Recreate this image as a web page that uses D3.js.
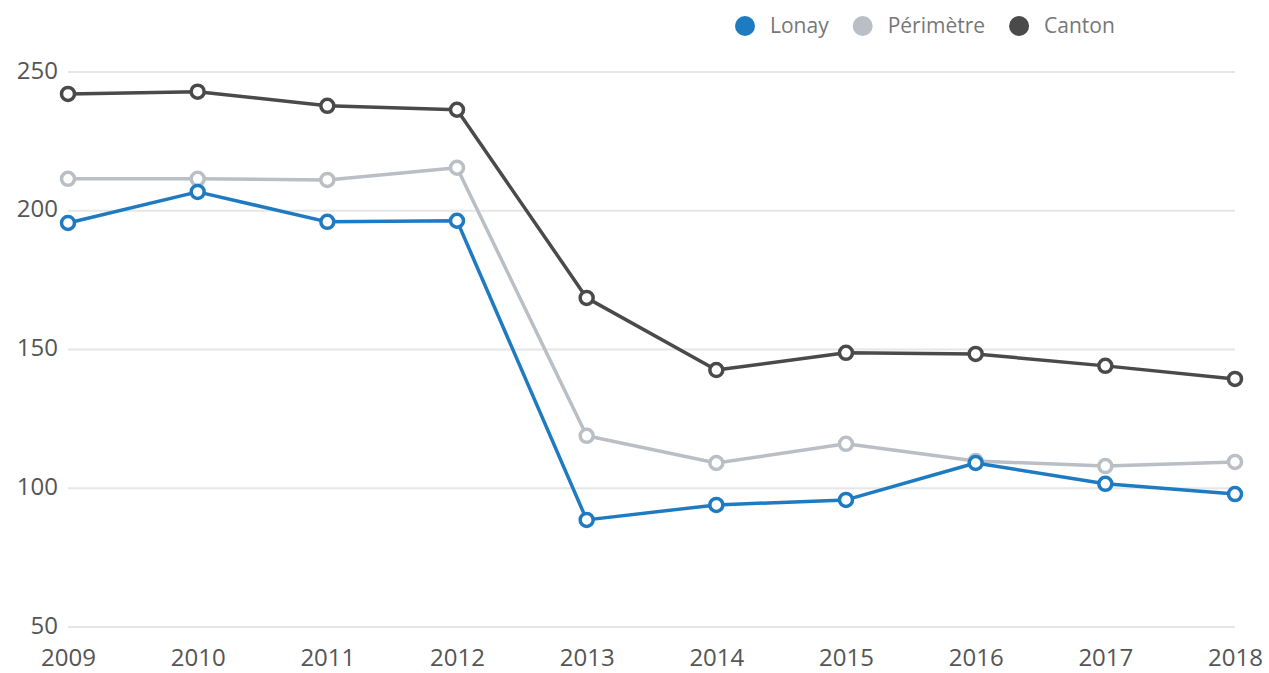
<!DOCTYPE html>
<html>
<head>
<meta charset="utf-8">
<script src="https://cdn.jsdelivr.net/npm/d3@7"></script>
<style>
  body { margin: 0; background: #fff; }
  svg { display: block; font-family: "Open Sans", sans-serif; }
</style>
</head>
<body>
<div id="vis"></div>
<script>
// data
var years = [2009, 2010, 2011, 2012, 2013, 2014, 2015, 2016, 2017, 2018];
var lonay = [195.6, 206.8, 196.0, 196.4, 88.6, 94.0, 95.8, 109.1, 101.6, 97.9];
var perimetre = [211.5, 211.5, 211.1, 215.5, 118.9, 109.1, 116.0, 109.8, 108.0, 109.5];
var canton = [242.1, 242.9, 237.8, 236.4, 168.6, 142.6, 148.8, 148.4, 144.1, 139.4];
var yTicks = [50, 100, 150, 200, 250];
var seriesNames = ["Lonay", "Périmètre", "Canton"];
var seriesColors = ["#1f7bc1", "#b9bfc5", "#4a4a4a"];

var width = 1269, height = 673;

var x = d3.scaleLinear().domain([2009, 2018]).range([68, 1235]);
var y = d3.scaleLinear().domain([50, 250]).range([627, 72]);

var svg = d3.select("#vis").append("svg")
    .attr("width", width)
    .attr("height", height);

// grid lines
svg.append("g")
    .selectAll("line")
    .data(yTicks)
    .enter().append("line")
      .attr("x1", x(2009))
      .attr("x2", x(2018))
      .attr("y1", function(d) { return y(d); })
      .attr("y2", function(d) { return y(d); })
      .attr("stroke", "#e6e6e6")
      .attr("stroke-width", 2);

// y axis labels
var yAxis = svg.append("g")
    .attr("transform", "translate(58,0)")
    .call(d3.axisLeft(y).tickValues(yTicks).tickSize(0).tickPadding(0));
yAxis.select(".domain").remove();
yAxis.selectAll("text")
    .attr("dy", "0.25em")
    .attr("fill", "#555")
    .style("font-size", "24px")
    .style("font-family", "'Open Sans', sans-serif");

// x axis labels
var xAxis = svg.append("g")
    .attr("transform", "translate(0,649)")
    .call(d3.axisBottom(x).tickValues(years).tickFormat(d3.format("d")).tickSize(0).tickPadding(0));
xAxis.select(".domain").remove();
xAxis.selectAll("text")
    .attr("dy", "0.71em")
    .attr("fill", "#555")
    .style("font-size", "24px")
    .style("font-family", "'Open Sans', sans-serif");

var allSeries = [lonay, perimetre, canton];

var line = d3.line()
    .x(function(d, i) { return x(years[i]); })
    .y(function(d) { return y(d); });

// draw from back to front: Canton, Périmètre, Lonay
[2, 1, 0].forEach(function(k) {
  var g = svg.append("g");
  g.append("path")
      .datum(allSeries[k])
      .attr("fill", "none")
      .attr("stroke", seriesColors[k])
      .attr("stroke-width", 3.5)
      .attr("stroke-linejoin", "round")
      .attr("d", line);
  g.selectAll("circle")
      .data(allSeries[k])
      .enter().append("circle")
        .attr("cx", function(d, i) { return x(years[i]); })
        .attr("cy", function(d) { return y(d); })
        .attr("r", 6.5)
        .attr("fill", "#fff")
        .attr("stroke", seriesColors[k])
        .attr("stroke-width", 3.5);
});

// legend
var legend = svg.append("g");
var lx = 735;
seriesNames.forEach(function(name, i) {
  legend.append("circle")
      .attr("cx", lx + 10)
      .attr("cy", 26)
      .attr("r", 10)
      .attr("fill", seriesColors[i]);
  var t = legend.append("text")
      .attr("x", lx + 35)
      .attr("y", 26)
      .attr("dy", "0.35em")
      .attr("fill", "#777")
      .style("font-size", "21px")
      .text(name);
  lx = lx + 35 + t.node().getComputedTextLength() + 24;
});
</script>
</body>
</html>
